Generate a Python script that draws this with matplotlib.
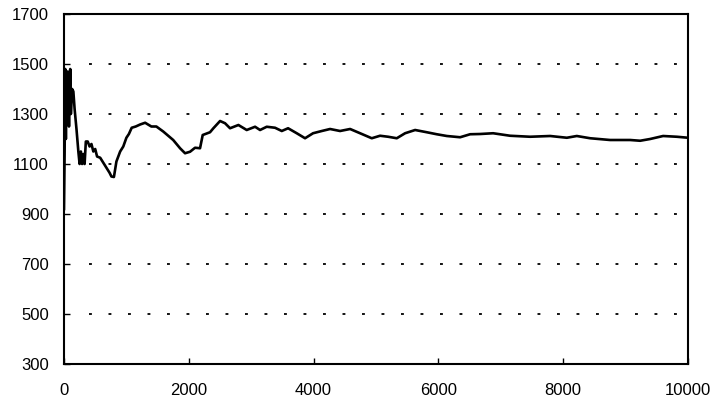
import matplotlib
matplotlib.use('Agg')
import matplotlib.pyplot as plt

# valores
trials = [0, 10, 20, 30, 40, 50, 60, 80, 100, 110, 130, 150, 170, 200, 230,
          250, 270, 290, 310, 330, 350, 380, 410, 440, 470, 500, 530, 580,
          630, 680, 730, 760, 800, 840, 900, 950, 1000, 1040, 1085, 1150,
          1220, 1300, 1400, 1480, 1590, 1750, 1860, 1940, 2020, 2100, 2180,
          2223, 2340, 2394, 2501, 2581, 2661, 2795, 2928, 3062, 3142, 3249,
          3382, 3490, 3591, 3730, 3863, 3991, 4131, 4264, 4424, 4585, 4745,
          4932, 5065, 5194, 5333, 5466, 5627, 5814, 5974, 6135, 6348, 6508,
          6669, 6877, 7149, 7470, 7791, 8058, 8218, 8432, 8752, 9073, 9233,
          9393, 9601, 9821, 10000]
values = [920, 1150, 1480, 1200, 1450, 1300, 1470, 1250, 1480, 1300, 1400,
          1390, 1320, 1240, 1150, 1100, 1150, 1100, 1140, 1100, 1190, 1190,
          1170, 1180, 1150, 1160, 1130, 1125, 1105, 1085, 1065, 1050, 1048,
          1110, 1150, 1170, 1205, 1220, 1245, 1250, 1258, 1265, 1250, 1250,
          1230, 1196, 1163, 1143, 1149, 1165, 1163, 1216, 1227, 1243, 1272,
          1263, 1243, 1256, 1236, 1249, 1236, 1249, 1245, 1232, 1243, 1223,
          1203, 1223, 1232, 1240, 1232, 1240, 1223, 1203, 1213, 1209, 1203,
          1223, 1236, 1227, 1219, 1212, 1207, 1219, 1220, 1223, 1213, 1209,
          1212, 1205, 1212, 1203, 1196, 1196, 1193, 1200, 1212, 1209, 1205]

xticks = [0, 2000, 4000, 6000, 8000, 10000]
yticks = [300, 500, 700, 900, 1100, 1300, 1500, 1700]
grid_levels = [500, 700, 900, 1100, 1300, 1500]

plt.rcParams['font.family'] = ['Liberation Sans', 'DejaVu Sans']

fig = plt.figure(figsize=(7.13, 4.04), dpi=100)
ax = fig.add_axes([64 / 713, 40 / 404, 624 / 713, 350 / 404])

# linhas de grade pontilhadas
for g in grid_levels:
    ax.plot([400, 9950], [g, g], color='black', linewidth=1.3,
            linestyle=(0, (1.6, 9.2)), zorder=1)

ax.plot(trials, values, color='black', linewidth=1.9, zorder=3)

ax.set_xlim(0, 10000)
ax.set_ylim(300, 1700)
ax.set_xticks(xticks)
ax.set_yticks(yticks)
ax.tick_params(direction='in', length=4, width=1, labelsize=12,
               colors='black')
ax.tick_params(axis='x', pad=14)
ax.tick_params(axis='y', pad=11)
for s in ax.spines.values():
    s.set_linewidth(1.5)
    s.set_color('black')

fig.savefig('out.png', dpi=100)
